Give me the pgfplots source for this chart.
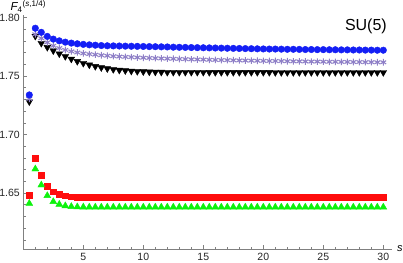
\documentclass[border=0pt]{standalone}
\usepackage{fontspec}
\setmainfont{Liberation Sans}
\usepackage{pgfplots}
\usepackage{pgfplotstable}
\pgfplotsset{compat=1.18}
\definecolor{cblue}{rgb}{0.08,0.12,0.96}
\definecolor{cpurple}{rgb}{0.56,0.50,0.78}
\definecolor{cred}{rgb}{1.0,0.05,0.05}
\definecolor{cgreen}{rgb}{0.05,0.95,0.05}
\definecolor{caxis}{rgb}{0.5,0.5,0.5}

\pgfplotstableread{
x    blue   purple  black   red     green
0.5  1.7338 1.7305  1.7280  1.6483  1.6410
1.0  1.7908 1.7856  1.7840  1.6797  1.6705
1.5  1.7873 1.7822  1.7780  1.6654  1.6568
2.0  1.7838 1.7787  1.7745  1.6560  1.6477
2.5  1.7815 1.7758  1.7716  1.6511  1.6426
3.0  1.7800 1.7738  1.7690  1.6489  1.6403
3.5  1.7789 1.7722  1.7667  1.6477  1.6390
4.0  1.7781 1.7710  1.7645  1.6469  1.6384
4.5  1.7775 1.7701  1.7625  1.6465  1.6381
5.0  1.7770 1.7693  1.7609  1.6464  1.6380
5.5  1.7766 1.7687  1.7595  1.6463  1.6379
6.0  1.7763 1.7682  1.7582  1.6463  1.6379
6.5  1.7760 1.7677  1.7572  1.6463  1.6379
7.0  1.7758 1.7673  1.7563  1.6463  1.6379
7.5  1.7757 1.7669  1.7556  1.6463  1.6379
8.0  1.7756 1.7666  1.7550  1.6463  1.6379
8.5  1.7755 1.7663  1.7546  1.6463  1.6379
9.0  1.7754 1.7661  1.7542  1.6463  1.6379
9.5  1.7753 1.7658  1.7539  1.6463  1.6379
10.0 1.7752 1.7656  1.7537  1.6463  1.6379
10.5 1.7751 1.7654  1.7535  1.6463  1.6379
11.0 1.7750 1.7652  1.7534  1.6463  1.6379
11.5 1.7749 1.7650  1.7533  1.6463  1.6379
12.0 1.7748 1.7648  1.7532  1.6463  1.6379
12.5 1.7746 1.7647  1.7532  1.6463  1.6379
13.0 1.7745 1.7645  1.7532  1.6463  1.6379
13.5 1.7744 1.7644  1.7532  1.6463  1.6379
14.0 1.7743 1.7642  1.7532  1.6463  1.6379
14.5 1.7742 1.7641  1.7532  1.6463  1.6379
15.0 1.7741 1.7640  1.7532  1.6463  1.6379
15.5 1.7740 1.7638  1.7531  1.6463  1.6379
16.0 1.7739 1.7637  1.7531  1.6463  1.6379
16.5 1.7738 1.7636  1.7531  1.6463  1.6379
17.0 1.7737 1.7635  1.7531  1.6463  1.6379
17.5 1.7736 1.7634  1.7531  1.6463  1.6379
18.0 1.7735 1.7633  1.7531  1.6463  1.6379
18.5 1.7734 1.7632  1.7531  1.6463  1.6379
19.0 1.7733 1.7631  1.7531  1.6463  1.6379
19.5 1.7732 1.7630  1.7531  1.6463  1.6379
20.0 1.7731 1.7629  1.7531  1.6463  1.6379
20.5 1.7730 1.7628  1.7531  1.6463  1.6379
21.0 1.7730 1.7628  1.7530  1.6463  1.6379
21.5 1.7729 1.7627  1.7530  1.6463  1.6379
22.0 1.7728 1.7626  1.7530  1.6463  1.6379
22.5 1.7728 1.7625  1.7530  1.6463  1.6379
23.0 1.7727 1.7625  1.7530  1.6463  1.6379
23.5 1.7726 1.7624  1.7530  1.6463  1.6379
24.0 1.7726 1.7623  1.7530  1.6463  1.6379
24.5 1.7725 1.7623  1.7530  1.6463  1.6379
25.0 1.7725 1.7622  1.7530  1.6463  1.6379
25.5 1.7724 1.7621  1.7530  1.6463  1.6379
26.0 1.7724 1.7621  1.7530  1.6463  1.6379
26.5 1.7723 1.7620  1.7530  1.6463  1.6379
27.0 1.7723 1.7620  1.7530  1.6463  1.6379
27.5 1.7722 1.7619  1.7530  1.6463  1.6379
28.0 1.7722 1.7619  1.7530  1.6463  1.6379
28.5 1.7721 1.7618  1.7530  1.6463  1.6379
29.0 1.7721 1.7618  1.7530  1.6463  1.6379
29.5 1.7720 1.7617  1.7530  1.6463  1.6379
30.0 1.7720 1.7617  1.7530  1.6463  1.6379
}\datatable

\begin{document}
\begin{tikzpicture}
\path[use as bounding box] (0,0) rectangle (403pt,262pt);
\begin{axis}[
  at={(23.3pt,12.7pt)}, anchor=south west,
  scale only axis, width=368.4pt, height=234.3pt,
  xmin=0, xmax=30.7, ymin=1.6019, ymax=1.8021,
  axis lines=left,
  axis line style={-, caxis, line width=0.6pt},
  tick align=inside,
  xtick={5,10,15,20,25,30},
  ytick={1.65,1.70,1.75,1.80},
  minor xtick={1,2,3,4,6,7,8,9,11,12,13,14,16,17,18,19,21,22,23,24,26,27,28,29},
  minor ytick={1.61,1.62,1.63,1.64,1.66,1.67,1.68,1.69,1.71,1.72,1.73,1.74,1.76,1.77,1.78,1.79},
  major tick length=4pt, minor tick length=2.2pt,
  tick style={caxis, line width=0.5pt},
  ticklabel style={font=\fontsize{10.5}{11}\selectfont, text=black!85},
  /pgf/number format/assume math mode=true,
  yticklabel style={/pgf/number format/.cd, fixed, fixed zerofill, precision=2},
  xticklabel style={/pgf/number format/.cd, fixed, precision=0},
  xlabel={\itshape s},
  xlabel style={at={(rel axis cs:1,0)}, anchor=west, xshift=2pt, yshift=1pt, font=\fontsize{11}{12}\selectfont},
  ylabel={\itshape F\textsubscript{\upshape 4}\textsuperscript{\upshape(\itshape s\upshape,1/4)}},
  ylabel style={rotate=-90, at={(rel axis cs:0,1)}, anchor=base, xshift=5pt, yshift=4.5pt, font=\fontsize{11.5}{12}\selectfont},
  clip=false,
]
\addplot[only marks, mark=triangle*, mark size=3.9pt, mark options={rotate=180, fill=black, draw=black}] table[x=x, y=black] {\datatable};
\addplot[only marks, mark=asterisk, mark size=3.3pt, mark options={draw=cpurple, line width=1.1pt}] table[x=x, y=purple] {\datatable};
\addplot[only marks, mark=*, mark size=3.3pt, mark options={fill=cblue, draw=cblue}] table[x=x, y=blue] {\datatable};
\addplot[only marks, mark=square*, mark size=2.8pt, mark options={fill=cred, draw=cred}] table[x=x, y=red] {\datatable};
\addplot[only marks, mark=triangle*, mark size=4pt, mark options={fill=cgreen, draw=cgreen}] table[x=x, y=green] {\datatable};
\node[font=\fontsize{16}{18}\selectfont, anchor=center] at (rel axis cs:0.930,0.950) {SU(5)};
\end{axis}
\end{tikzpicture}
\end{document}
